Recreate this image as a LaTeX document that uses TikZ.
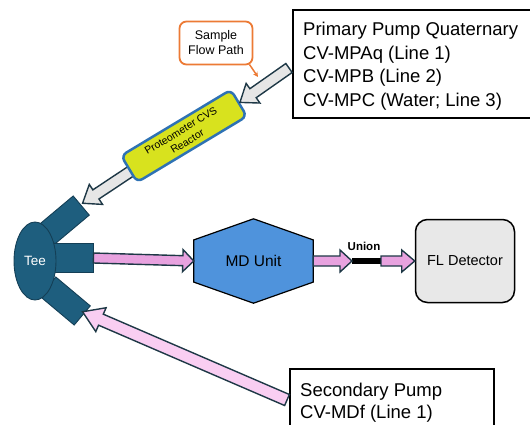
\documentclass[tikz,border=0pt]{standalone}
\usepackage{fontspec}
\setmainfont{Liberation Sans}
\usetikzlibrary{calc,arrows.meta,shapes.geometric}

\definecolor{teeblue}{HTML}{1E5E7E}
\definecolor{teeline}{HTML}{143F56}
\definecolor{arrowline}{HTML}{1E3846}
\definecolor{pipegrey}{HTML}{E6E6E6}
\definecolor{pinkmid}{HTML}{E8A2DF}
\definecolor{pinklight}{HTML}{F9CEF2}
\definecolor{mdblue}{HTML}{4F93DC}
\definecolor{reactorfill}{HTML}{D8E21E}
\definecolor{reactorline}{HTML}{2E72B4}
\definecolor{calloutorange}{HTML}{EC7A35}
\definecolor{detectorgrey}{HTML}{E8E8E8}

\tikzset{
  teepart/.style={fill=teeblue, draw=teeline, line width=0.9pt},
  greyarrow/.style={fill=pipegrey, draw=arrowline, line width=1.4pt, line join=miter},
  pinkarrow/.style={fill=pinkmid, draw=arrowline, line width=1.4pt, line join=miter},
  lightpinkarrow/.style={fill=pinklight, draw=arrowline, line width=1.4pt, line join=miter},
  infobox/.style={draw=black, line width=1.5pt},
  boxtext/.style={anchor=base west, inner sep=0pt, font=\fontsize{18.5}{22}\selectfont},
}

% block arrow: style, tail, tip, half shaft width, half head width, head length
\newcommand\blockarrow[6]{%
  \filldraw[#1]
    ($(#2)!#4!90:(#3)$) --
    ($($(#3)!#6!(#2)$)!#4!90:(#3)$) --
    ($($(#3)!#6!(#2)$)!#5!90:(#3)$) --
    (#3) --
    ($($(#3)!#6!(#2)$)!#5!-90:(#3)$) --
    ($($(#3)!#6!(#2)$)!#4!-90:(#3)$) --
    ($(#2)!#4!-90:(#3)$) -- cycle;
}

\begin{document}
\begin{tikzpicture}[x=1pt, y=-1pt]
\useasboundingbox (0,0) rectangle (530,424);
\clip (0,0) rectangle (530,424);

% Tee fitting: three arms behind the body
\node[teepart, rectangle, rotate=40, minimum width=45pt, minimum height=25pt, inner sep=0pt] (armU) at (64,220) {};
\node[teepart, rectangle, rotate=-40, minimum width=45pt, minimum height=25pt, inner sep=0pt] (armL) at (65,301) {};
\node[teepart, rectangle, minimum width=43pt, minimum height=29pt, inner sep=0pt] (armM) at (71.5,258) {};
\node[teepart, ellipse, minimum width=42pt, minimum height=78pt, inner sep=0pt,
      text=white, font=\fontsize{13.5}{16}\selectfont] (tee) at (35,261) {Tee};

% Sample callout
\node[draw=calloutorange, line width=1.8pt, rounded corners=7pt, minimum width=73pt,
      minimum height=43pt, align=center, font=\fontsize{12.5}{15}\selectfont] (sfp) at (216,43)
      {Sample\\Flow Path};
\coordinate (sfptip) at (258,77);

% Primary pump box
\node[infobox, rectangle, minimum width=250pt, minimum height=108pt, inner sep=0pt] (ppump) at (418,64) {};
\node[boxtext] (pp1) at (303,35.5) {Primary Pump Quaternary};
\node[boxtext] (pp2) at (303,59) {CV-MPAq (Line 1)};
\node[boxtext] (pp3) at (303,82.5) {CV-MPB (Line 2)};
\node[boxtext] (pp4) at (303,106) {CV-MPC (Water; Line 3)};
\coordinate (pptail) at (289,68);

% Secondary pump box
\node[infobox, rectangle, minimum width=204pt, minimum height=70pt, inner sep=0pt] (spump) at (392,404) {};
\node[boxtext] (sp1) at (300,396) {Secondary Pump};
\node[boxtext] (sp2) at (300,418.5) {CV-MDf (Line 1)};
\coordinate (sptail) at (287,400);

% Reactor
\coordinate (reactorpos) at (184,136);
\coordinate (armUend) at ($(armU.east)+(1,-2)$);
\coordinate (reactortail) at ($(reactorpos)!58pt!(armUend)$);
\blockarrow{greyarrow}{reactortail}{armUend}{5.5pt}{12pt}{16pt}
\node[rotate=31, rounded corners=6pt, fill=reactorfill, draw=reactorline, line width=2.5pt,
      minimum width=128pt, minimum height=31pt, inner sep=1pt, align=center,
      font=\fontsize{10.5}{12.5}\selectfont] (reactor) at (reactorpos) {Proteometer CVS\\Reactor};
\blockarrow{greyarrow}{pptail}{reactor.east}{5.5pt}{12pt}{16pt}

\draw[calloutorange, line width=1.5pt, -{Stealth[length=5pt,width=5pt]}]
  ($(sfp.south east)+(-4,-1)$) -- (sfptip);

% MD unit (hexagon)
\node[minimum width=119pt, minimum height=84pt, inner sep=0pt,
      font=\fontsize{15.5}{18}\selectfont] (md) at (253.5,261) {};
\filldraw[fill=mdblue, draw=black, line width=1.2pt]
  (md.north) -- ($(md.north east)!0.25!(md.south east)$) -- ($(md.north east)!0.75!(md.south east)$)
  -- (md.south) -- ($(md.north west)!0.75!(md.south west)$) -- ($(md.north west)!0.25!(md.south west)$) -- cycle;
\node[font=\fontsize{15.5}{18}\selectfont] (mdlabel) at (md.center) {MD Unit};

% FL detector
\node[draw=black, line width=1.5pt, fill=detectorgrey, rounded corners=12pt,
      minimum width=99pt, minimum height=83pt, font=\fontsize{14.5}{17}\selectfont] (fl) at (465,261) {FL Detector};

% Union
\coordinate (unionL) at (352,261);
\coordinate (unionR) at (381,261);
\draw[black, line width=6pt] (unionL) -- (unionR);
\node[font=\bfseries\fontsize{11.5}{13}\selectfont] (union) at (364,246) {Union};

% Flow arrows
\blockarrow{pinkarrow}{armM.east}{md.west}{5pt}{11pt}{11pt}
\blockarrow{pinkarrow}{md.east}{unionL}{5pt}{11pt}{12pt}
\blockarrow{pinkarrow}{unionR}{fl.west}{5pt}{11pt}{13pt}
\coordinate (armLend) at ($(armL.east)+(0,-4)$);
\blockarrow{lightpinkarrow}{sptail}{armLend}{6pt}{13pt}{20pt}

\end{tikzpicture}
\end{document}
